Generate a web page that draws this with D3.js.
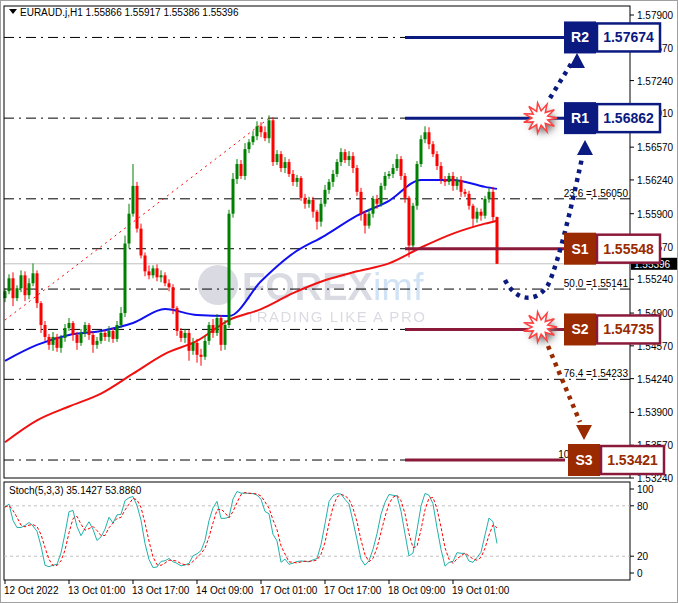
<!DOCTYPE html>
<html>
<head>
<meta charset="utf-8">
<script src="https://cdn.jsdelivr.net/npm/d3@7"></script>
<style>
  body { margin: 0; background: #fff; }
  svg { display: block; font-family: "Liberation Sans", Arial, sans-serif; }
  .ax { font-size: 10px; fill: #000; }
</style>
</head>
<body>
<svg id="chart" width="678" height="603"></svg>
<script>
// closes of the H1 candles, open = previous close
const firstOpen = 1.5505;
const closes = [
  1.5512,1.5525,1.5505,1.5515,1.5528,1.5508,1.5520,1.5530,
  1.5500,1.5478,1.5466,1.5458,1.5466,1.5455,
  1.5465,1.5475,1.5480,1.5468,1.5460,1.5470,1.5478,1.5468,1.5458,1.5462,1.5470,1.5466,1.5472,1.5464,1.5478,1.5490,
  1.5560,1.5590,1.5618,
  1.5575,1.5548,
  1.5532,1.5528,1.5535,1.5526,1.5528,1.5520,1.5516,
  1.5495,1.5472,1.5465,
  1.5470,1.5452,1.5460,1.5448,1.5446,1.5462,
  1.5478,1.5470,1.5485,1.5458,1.5478,
  1.5590,1.5625,1.5640,
  1.5628,1.5655,1.5662,1.5668,
  1.5678,1.5672,1.5666,1.5684,
  1.5642,
  1.5650,1.5636,1.5642,1.5630,1.5622,1.5626,
  1.5606,1.5600,1.5604,1.5592,1.5582,
  1.5600,1.5614,1.5622,1.5630,1.5642,
  1.5652,1.5644,1.5648,1.5636,
  1.5612,1.5590,1.5578,1.5590,
  1.5605,1.5600,1.5618,1.5628,1.5630,
  1.5636,1.5645,1.5628,1.5606,
  1.5558,
  1.5598,
  1.5640,1.5665,
  1.5672,1.5660,1.5650,
  1.5638,1.5625,1.5622,
  1.5628,1.5618,1.5624,1.5612,1.5610,
  1.5598,1.5585,1.5592,
  1.5588,1.5605,1.5612,
  1.55866,
  1.55396
];
// wick lengths in pips (0.0001)
const upWick = [
  3,4,6,3,5,4,5,10, 3,2,4,3,5,3, 3,4,5,2,3,4,3,2,3,4,2,3,5,3,4,6,
  8,10,22, 4,5, 3,6,3,4,5,3,4, 3,2,3, 4,3,5,4,6,5, 3,6,4,3,5, 4,6,5, 4,6,3,5,
  5,4,6,5, 3, 4,3,5,3,4,3, 2,4,3,3,2, 4,5,3,4,3, 4,3,5,4, 3,4,3,5, 3,4,3,4,3,
  4,5,3,3, 2, 3, 3,4, 6,5,3, 3,4,3, 3,4,3,4,3, 3,2,4, 3,3,4, 5, 0.5
];
const loWick = [
  4,3,8,3,4,6,4,3, 5,8,4,5,6,4, 5,4,3,6,7,3,4,5,8,4,3,4,5,4,3,3,
  4,5,3, 4,3, 5,4,3,4,5,3,4, 6,5,4, 5,10,4,8,9,3, 4,5,3,6,5, 3,4,5, 3,4,4,3,
  4,5,3,5, 4, 3,4,5,3,4,5, 3,5,4,6,8, 5,3,4,5,3, 4,3,6,5, 4,7,8,3, 4,5,3,4,3,
  4,3,4,5, 12, 3, 4,3, 4,5,3, 4,5,4, 3,5,4,5,3, 4,8,4, 5,3,4, 4, 0.1
];

// moving averages read at sampled bars
const maBars = [0,8,16,24,32,40,48,56,64,72,80,88,96,104,112,120,123];
const maBlue = [1.5442,1.5458,1.5468,1.5472,1.5480,1.5494,1.5488,1.5487,1.5522,1.5550,1.5568,
  1.5588,1.5603,1.5624,1.5624,1.5617,1.5615];
const maRed = [1.5360,1.5382,1.5396,1.5409,1.5429,1.5449,1.5462,1.5483,1.5494,1.5510,1.5523,
  1.5532,1.5540,1.5556,1.5570,1.5580,1.5583];

const priceTicks = [1.57900,1.57570,1.57240,1.56910,1.56570,1.56240,1.55900,1.55570,
  1.55240,1.54900,1.54570,1.54240,1.53900,1.53570,1.53240];
const timeTickBars = [0,16,32,48,64,80,96,112];
const timeTickLabels = ["12 Oct 2022","13 Oct 01:00","13 Oct 17:00","14 Oct 09:00",
  "17 Oct 01:00","17 Oct 17:00","18 Oct 09:00","19 Oct 01:00"];

const fibHigh = 1.56862, fibLow = 1.53421;
const fibLevels = [-23.6, 0, 23.6, 38.2, 50, 61.8, 76.4, 100];
const fibShown = [23.6, 50, 76.4, 100];

const levels = [
  { name: "R2", value: 1.57674, kind: "r" },
  { name: "R1", value: 1.56862, kind: "r" },
  { name: "S1", value: 1.55548, kind: "s" },
  { name: "S2", value: 1.54735, kind: "s" },
  { name: "S3", value: 1.53421, kind: "s" }
];
const lastPrice = 1.55396;

const NAVY = "#0a1a80", MAROON = "#8b1a3a", BROWN = "#9a2a00";

const svg = d3.select("#chart");
const PL = 4, PR = 630, PT = 6, PB = 478;
const SPT = 482, SPB = 580;
const N = closes.length - 1;

const x = d3.scaleLinear().domain([0, N]).range([5, 5 + 4 * N]);
const y = d3.scaleLinear().domain([1.53240, 1.57900]).range([478, 15]);
const ys = d3.scaleLinear().domain([0, 100]).range([573, 489]);

svg.append("rect").attr("x", 0.5).attr("y", 0.5).attr("width", 677).attr("height", 602)
  .attr("fill", "#fff").attr("stroke", "#a0a0a0");

// watermark
const wm = svg.append("g").attr("opacity", 0.22);
wm.append("circle").attr("cx", 218).attr("cy", 285).attr("r", 20).attr("fill", "#5a5a80");
wm.append("text").attr("x", 242).attr("y", 300).attr("font-size", 38).attr("font-weight", "bold")
  .attr("fill", "#5a5a80").text("FOREX")
  .append("tspan").attr("fill", "#2c7fd0").attr("font-weight", "normal").text("imf");
wm.append("text").attr("x", 246).attr("y", 322).attr("font-size", 15).attr("letter-spacing", 1.5)
  .attr("fill", "#5a5a80").text("TRADING LIKE A PRO");

// fib dash-dot lines
fibLevels.forEach(f => {
  const v = fibHigh - (fibHigh - fibLow) * f / 100;
  svg.append("line").attr("x1", PL).attr("x2", PR).attr("y1", y(v)).attr("y2", y(v))
    .attr("stroke", "#000").attr("stroke-dasharray", "10,5,2,5");
  if (fibShown.includes(f)) {
    svg.append("text").attr("class", "ax").attr("x", 628).attr("y", y(v) - 2)
      .attr("text-anchor", "end").text(`${f.toFixed(1)} =${v.toFixed(5)}`);
  }
});

// current price line
svg.append("line").attr("x1", PL).attr("x2", PR).attr("y1", y(lastPrice)).attr("y2", y(lastPrice))
  .attr("stroke", "#c0c0c0");

// fib trendline
svg.append("line").attr("x1", x(0)).attr("y1", y(1.5483)).attr("x2", x(66)).attr("y2", y(fibHigh))
  .attr("stroke", "red").attr("stroke-dasharray", "2,4");

// moving averages
const maLine = d3.line().x((d, i) => x(maBars[i])).y(d => y(d)).curve(d3.curveMonotoneX);
svg.append("path").attr("d", maLine(maRed)).attr("fill", "none").attr("stroke", "#f01010").attr("stroke-width", 2);
svg.append("path").attr("d", maLine(maBlue)).attr("fill", "none").attr("stroke", "#1010f0").attr("stroke-width", 2);

// candles
const candles = closes.map((c, i) => {
  const o = i === 0 ? firstOpen : closes[i - 1];
  const uw = upWick[i] ?? 3, lw = loWick[i] ?? 3;
  return { i, o, c, h: Math.max(o, c) + uw / 10000, l: Math.min(o, c) - lw / 10000 };
});
const cg = svg.append("g");
candles.forEach(d => {
  const col = d.c >= d.o ? "#008000" : "#ff0000";
  cg.append("line").attr("x1", x(d.i)).attr("x2", x(d.i)).attr("y1", y(d.h)).attr("y2", y(d.l))
    .attr("stroke", col);
  cg.append("rect").attr("x", x(d.i) - 1.5).attr("width", 3)
    .attr("y", y(Math.max(d.o, d.c))).attr("height", Math.max(1, Math.abs(y(d.o) - y(d.c))))
    .attr("fill", col);
});

// level lines
levels.forEach(l => {
  svg.append("line").attr("x1", 405).attr("x2", 565).attr("y1", y(l.value)).attr("y2", y(l.value))
    .attr("stroke", l.kind === "r" ? NAVY : MAROON).attr("stroke-width", 3);
});

// main frame and price axis
svg.append("rect").attr("x", PL).attr("y", PT).attr("width", PR - PL).attr("height", PB - PT)
  .attr("fill", "none").attr("stroke", "#000");
priceTicks.forEach(p => {
  svg.append("line").attr("x1", PR).attr("x2", PR + 4).attr("y1", y(p)).attr("y2", y(p)).attr("stroke", "#000");
  svg.append("text").attr("class", "ax").attr("x", 637).attr("y", y(p) + 4).text(p.toFixed(5));
});
svg.append("rect").attr("x", 631).attr("y", y(lastPrice) - 6).attr("width", 46).attr("height", 12).attr("fill", "#000");
svg.append("text").attr("class", "ax").attr("x", 634).attr("y", y(lastPrice) + 4)
  .style("fill", "#fff").text(lastPrice.toFixed(5));

// starbursts
const defs = svg.append("defs");
defs.append("filter").attr("id", "blur").append("feGaussianBlur").attr("stdDeviation", 3);
function star(cx, cy) {
  const pts = d3.range(22).map(k => {
    const a = k * Math.PI / 11, r = k % 2 ? 8 : 17;
    return [cx + r * Math.cos(a), cy + r * Math.sin(a) * 0.9];
  });
  svg.append("polygon").attr("points", pts.map(p => [p[0] + 3, p[1] + 4].join(",")).join(" "))
    .attr("fill", "#777").attr("filter", "url(#blur)");
  svg.append("polygon").attr("points", pts.map(p => p.join(",")).join(" "))
    .attr("fill", "#fff").attr("stroke", "#ff4040").attr("stroke-width", 1.5);
}
star(540, 118);
star(540, 327);

// dotted arrows
function arrow(d, tip, dir, col) {
  svg.append("path").attr("d", d).attr("fill", "none").attr("stroke", col)
    .attr("stroke-width", 4.5).attr("stroke-dasharray", "4,5");
  const [tx, ty] = tip, s = dir;
  svg.append("polygon").attr("fill", col)
    .attr("points", `${tx},${ty} ${tx - 8},${ty + 15 * s} ${tx + 8},${ty + 15 * s}`);
}
arrow("M505,280 C515,300 535,305 548,285 C560,260 575,190 582,158", [585, 140], 1, NAVY);
arrow("M550,98 L571,64", [577, 53], 1, NAVY);
arrow("M548,346 L580,422", [584, 440], -1, BROWN);

// level boxes
levels.forEach(l => {
  const cy = y(l.value);
  const bx = l.name === "S3" ? 568 : 564;
  const col = l.kind === "r" ? NAVY : BROWN;
  const border = l.kind === "r" ? NAVY : MAROON;
  svg.append("rect").attr("x", bx).attr("y", cy - 16).attr("width", 32).attr("height", 32)
    .attr("fill", col);
  svg.append("rect").attr("x", bx + 33).attr("y", cy - 14).attr("width", 63).attr("height", 28)
    .attr("fill", "#fff").attr("stroke", border).attr("stroke-width", 2.5);
  svg.append("text").attr("x", bx + 16).attr("y", cy + 5).attr("text-anchor", "middle")
    .attr("font-weight", "bold").attr("font-size", 14)
    .attr("fill", "#fff").text(l.name);
  svg.append("text").attr("x", bx + 64.5).attr("y", cy + 5).attr("text-anchor", "middle")
    .attr("font-weight", "bold").attr("font-size", 14)
    .attr("fill", l.kind === "r" ? NAVY : BROWN).text(l.value.toFixed(5));
});

svg.append("path").attr("d", "M9,9 L17,9 L13,14 Z").attr("fill", "#000");
svg.append("text").attr("class", "ax").attr("x", 20).attr("y", 16).attr("font-size", 11)
  .text("EURAUD.j,H1  1.55866 1.55917 1.55386 1.55396");

// stochastic (5,3,3) from the candles
const kRaw = candles.map((d, i) => {
  const w = candles.slice(Math.max(0, i - 4), i + 1);
  const hh = d3.max(w, e => e.h), ll = d3.min(w, e => e.l);
  return hh === ll ? 50 : (d.c - ll) / (hh - ll) * 100;
});
const sma = (arr, n) => arr.map((v, i) => d3.mean(arr.slice(Math.max(0, i - n + 1), i + 1)));
const kLine = sma(kRaw, 3), dLine = sma(kLine, 3);

svg.append("rect").attr("x", PL).attr("y", SPT).attr("width", PR - PL).attr("height", SPB - SPT)
  .attr("fill", "none").attr("stroke", "#000");
[80, 20].forEach(v => svg.append("line").attr("x1", PL).attr("x2", PR).attr("y1", ys(v)).attr("y2", ys(v))
  .attr("stroke", "#c0c0c0").attr("stroke-dasharray", "3,3"));
const sl = d3.line().x((d, i) => x(i)).y(d => ys(d));
svg.append("path").attr("d", sl(kLine)).attr("fill", "none").attr("stroke", "#20b2aa");
svg.append("path").attr("d", sl(dLine)).attr("fill", "none").attr("stroke", "red").attr("stroke-dasharray", "3,2");
[100, 80, 20, 0].forEach(v => {
  svg.append("line").attr("x1", PR).attr("x2", PR + 4).attr("y1", ys(v)).attr("y2", ys(v)).attr("stroke", "#000");
  svg.append("text").attr("class", "ax").attr("x", 637).attr("y", ys(v) + 4).text(v);
});
svg.append("text").attr("class", "ax").attr("x", 9).attr("y", 494)
  .text(`Stoch(5,3,3) ${kLine[N].toFixed(4)} ${dLine[N].toFixed(4)}`);

// time axis
timeTickBars.forEach((b, k) => {
  svg.append("line").attr("x1", x(b)).attr("x2", x(b)).attr("y1", SPB).attr("y2", SPB + 4).attr("stroke", "#000");
  svg.append("text").attr("class", "ax").attr("x", x(b) - 1).attr("y", 594).text(timeTickLabels[k]);
});
</script>
</body>
</html>
